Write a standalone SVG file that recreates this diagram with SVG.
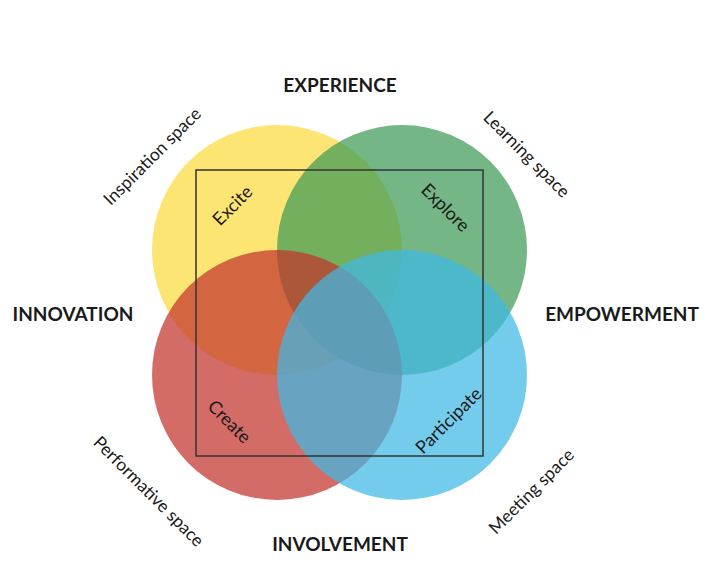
<svg xmlns="http://www.w3.org/2000/svg" width="715" height="582" viewBox="0 0 715 582">
<style>
.head{font-family:Lato,"Open Sans","Liberation Sans",sans-serif;font-weight:bold;font-size:19px;fill:#1a1a1a;text-anchor:middle;dominant-baseline:central}
.lbl{font-family:Lato,"Open Sans","Liberation Sans",sans-serif;font-size:18px;fill:#1a1a1a;text-anchor:middle;dominant-baseline:central}
.sp{font-family:Lato,"Open Sans","Liberation Sans",sans-serif;font-size:17.5px;fill:#1a1a1a;text-anchor:middle;dominant-baseline:central}
.c{fill-opacity:0.72}
</style>
<rect width="715" height="582" fill="#ffffff"/>
<g id="circles">
<circle id="yellow" class="c" cx="277" cy="250" r="125" fill="#FCDB3D"/>
<circle id="green" class="c" cx="402" cy="250" r="125" fill="#3E9A56"/>
<circle id="red" class="c" cx="277" cy="375" r="125" fill="#C2332D"/>
<circle id="blue" class="c" cx="402" cy="375" r="125" fill="#3FB8E4" fill-opacity="0.7"/>
</g>
<g id="frame">
<rect x="196" y="170" width="287" height="286" fill="none" stroke="#333333" stroke-width="1.5"/>
</g>
<g id="headers">
<text class="head" x="340" y="84">EXPERIENCE</text>
<text class="head" x="73" y="313">INNOVATION</text>
<text class="head" x="622" y="313">EMPOWERMENT</text>
<text class="head" x="340" y="543">INVOLVEMENT</text>
</g>
<g id="spaces">
<text class="sp" transform="translate(152,156) rotate(-45)">Inspiration space</text>
<text class="sp" transform="translate(527,154) rotate(45)">Learning space</text>
<text class="sp" transform="translate(149,491) rotate(45)">Performative space</text>
<text class="sp" transform="translate(531,491) rotate(-45)">Meeting space</text>
</g>
<g id="quadrants">
<text class="lbl" transform="translate(232,205) rotate(-45)">Excite</text>
<text class="lbl" transform="translate(446,207) rotate(45)">Explore</text>
<text class="lbl" transform="translate(230,421) rotate(45)">Create</text>
<text class="lbl" transform="translate(448,420) rotate(-45)">Participate</text>
</g>
</svg>
